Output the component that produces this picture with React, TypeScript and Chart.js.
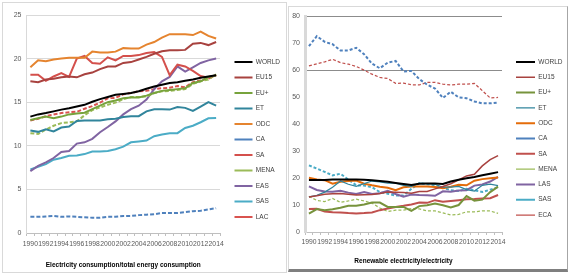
import React, { useEffect, useRef } from 'react';
import { Chart, registerables } from 'chart.js';
Chart.register(...registerables);

const YEARS = ['1990','1991','1992','1993','1994','1995','1996','1997','1998','1999','2000','2001','2002','2003','2004','2005','2006','2007','2008','2009','2010','2011','2012','2013','2014'];

// Left panel: Electricity consumption / total energy consumption (%)
const L_WORLD = [13.35, 13.6, 13.75, 13.95, 14.15, 14.3, 14.5, 14.7, 15.05, 15.35, 15.6, 15.85, 15.95, 16.05, 16.25, 16.55, 16.8, 17.0, 17.2, 17.3, 17.45, 17.6, 17.8, 17.95, 18.1];
const L_EU15 = [17.4, 17.3, 17.6, 17.7, 17.85, 17.95, 17.85, 18.2, 18.4, 18.8, 19.1, 19.1, 19.5, 19.6, 19.9, 20.2, 20.55, 20.85, 20.95, 20.95, 21.0, 21.7, 21.8, 21.55, 21.9];
const L_EUP = [12.95, 13.15, 13.35, 13.15, 13.35, 13.6, 13.7, 13.8, 14.2, 14.6, 15.0, 15.2, 15.45, 15.55, 15.55, 15.75, 16.05, 16.3, 16.4, 16.5, 16.6, 17.2, 17.4, 17.9, 18.1];
const L_ET = [11.75, 11.6, 11.9, 11.65, 12.1, 12.2, 12.85, 12.9, 12.9, 12.9, 13.05, 13.1, 13.3, 13.4, 13.4, 13.95, 14.2, 14.2, 14.15, 14.45, 14.35, 14.0, 14.5, 15.0, 14.6];
const L_ODC = [19.0, 19.8, 19.7, 19.9, 20.0, 20.1, 20.1, 20.1, 20.8, 20.7, 20.7, 20.8, 21.2, 21.15, 21.15, 21.6, 21.9, 22.4, 22.8, 22.8, 22.8, 22.7, 23.1, 22.6, 22.3];
const L_CA = [1.85, 1.85, 1.9, 1.95, 1.85, 1.9, 1.85, 1.8, 1.75, 1.75, 1.85, 1.85, 1.95, 1.95, 2.05, 2.1, 2.15, 2.3, 2.3, 2.3, 2.4, 2.5, 2.55, 2.7, 2.85];
const L_SA = [18.15, 18.15, 17.45, 17.95, 18.35, 17.9, 20.0, 20.3, 19.5, 19.4, 20.15, 19.8, 20.3, 20.3, 20.4, 20.65, 20.75, 20.2, 18.1, 19.3, 19.1, 18.6, 18.0, 17.8, 18.1];
const L_MENA = [11.45, 11.35, 11.85, 12.3, 12.6, 12.7, 12.8, 13.5, 14.1, 14.4, 14.7, 14.95, 15.35, 15.6, 15.6, 15.65, 16.05, 16.25, 16.3, 16.4, 16.5, 17.1, 17.4, 17.6, 18.2];
const L_EAS = [7.1, 7.7, 8.1, 8.6, 9.3, 9.4, 10.25, 10.4, 10.8, 11.55, 12.15, 12.8, 13.6, 14.2, 14.6, 15.3, 16.5, 17.4, 17.9, 19.1, 18.5, 19.0, 19.5, 19.8, 20.0];
const L_SAS = [7.3, 7.6, 7.9, 8.4, 8.6, 8.85, 8.9, 9.05, 9.35, 9.35, 9.4, 9.6, 9.9, 10.4, 10.5, 10.6, 11.1, 11.3, 11.45, 11.45, 12.05, 12.3, 12.7, 13.15, 13.2];
const L_LAC = [12.9, 13.1, 13.4, 13.6, 13.75, 13.85, 13.9, 14.25, 14.55, 14.95, 15.45, 15.5, 15.9, 16.05, 16.25, 16.3, 16.5, 16.6, 16.65, 16.85, 16.7, 17.3, 17.5, 17.7, 18.1];

// Right panel: Renewable electricity / electricity (%)
const R_WORLD = [19.3, 19.3, 19.3, 19.5, 19.5, 19.5, 19.5, 19.4, 19.2, 18.9, 18.6, 18.2, 17.8, 17.4, 17.9, 18.0, 18.0, 17.8, 18.7, 19.4, 19.9, 20.4, 21.0, 21.6, 22.2];
const R_EU15 = [13.0, 13.4, 14.0, 14.2, 14.3, 14.0, 13.7, 13.8, 13.9, 14.3, 14.8, 14.7, 14.6, 14.4, 15.0, 15.0, 16.0, 16.9, 17.9, 19.3, 20.8, 21.4, 24.5, 26.8, 28.3];
const R_EUP = [6.8, 8.5, 8.1, 8.4, 9.0, 9.7, 9.7, 10.2, 10.9, 10.9, 9.3, 9.3, 9.3, 7.8, 9.6, 9.9, 10.6, 9.9, 9.1, 10.0, 13.3, 11.6, 12.0, 14.8, 16.8];
const R_ET = [13.0, 13.6, 14.8, 16.6, 18.9, 17.7, 16.9, 17.9, 18.9, 18.6, 18.1, 18.1, 17.3, 16.9, 18.1, 17.9, 17.7, 16.6, 16.6, 16.9, 15.7, 15.2, 17.3, 17.7, 17.2];
const R_ODC = [20.1, 19.5, 19.2, 17.9, 18.6, 18.9, 19.1, 17.9, 17.3, 16.8, 16.4, 15.5, 16.6, 16.9, 16.9, 16.9, 16.7, 16.2, 16.8, 17.5, 17.3, 19.0, 19.6, 19.9, 20.2];
const R_CA = [68.9, 72.6, 70.5, 69.6, 67.3, 67.3, 68.3, 65.9, 62.4, 60.7, 62.8, 63.4, 59.5, 59.7, 56.7, 54.6, 53.2, 49.7, 52.0, 49.9, 49.6, 48.4, 47.7, 47.7, 48.0];
const R_SA = [8.5, 8.6, 7.6, 7.3, 7.2, 7.0, 6.9, 7.0, 7.2, 8.1, 8.7, 9.3, 9.7, 10.2, 10.9, 10.8, 11.8, 11.2, 11.5, 11.8, 12.1, 12.2, 12.4, 12.5, 13.7];
const R_MENA = [13.2, 11.7, 11.3, 12.4, 11.0, 11.5, 12.2, 11.5, 10.7, 8.9, 7.6, 8.1, 8.1, 8.7, 8.6, 7.8, 7.8, 7.1, 6.3, 6.5, 7.5, 7.5, 7.8, 7.8, 6.9];
const R_LAS = [16.9, 15.6, 15.0, 14.9, 15.3, 14.6, 14.1, 14.8, 14.1, 14.4, 15.3, 14.1, 13.1, 13.9, 13.7, 13.6, 13.4, 15.1, 14.9, 15.4, 15.5, 17.2, 17.6, 18.7, 20.4];
const R_SAS = [24.7, 23.5, 22.3, 21.0, 21.6, 19.4, 17.3, 17.2, 16.6, 14.8, 14.2, 13.5, 13.5, 16.0, 18.1, 17.7, 17.3, 16.4, 15.5, 15.2, 16.0, 15.5, 14.8, 15.7, 16.6];
const R_ECA = [61.6, 62.3, 63.1, 64.0, 62.8, 62.2, 61.4, 60.0, 58.5, 57.3, 56.9, 55.1, 55.2, 54.6, 54.5, 55.5, 55.5, 54.8, 54.5, 54.8, 54.8, 55.1, 52.4, 49.7, 49.9];

const LEFT_TICKS = [0, 5, 10, 15, 20, 25];
const RIGHT_TICKS = [0, 10, 20, 30, 40, 50, 60, 70, 80];

const FONT = "'Liberation Sans', Arial, sans-serif";

type S = { label: string; data: number[]; color: string; width: number; dash?: number[] };

const LEFT_SERIES: S[] = [
  { label: 'WORLD', data: L_WORLD, color: '#000000', width: 2 },
  { label: 'EU15', data: L_EU15, color: '#a8423f', width: 2 },
  { label: 'EU+', data: L_EUP, color: '#77a33c', width: 2 },
  { label: 'ET', data: L_ET, color: '#31859c', width: 2 },
  { label: 'ODC', data: L_ODC, color: '#e5842f', width: 2 },
  { label: 'CA', data: L_CA, color: '#4f81bd', width: 2, dash: [4, 2] },
  { label: 'SA', data: L_SA, color: '#d4504c', width: 2 },
  { label: 'MENA', data: L_MENA, color: '#9bbb59', width: 2, dash: [4, 2] },
  { label: 'EAS', data: L_EAS, color: '#8064a2', width: 2 },
  { label: 'SAS', data: L_SAS, color: '#4bacc6', width: 2 },
  { label: 'LAC', data: L_LAC, color: '#d9534f', width: 2, dash: [4, 2] },
];

const RIGHT_SERIES: S[] = [
  { label: 'WORLD', data: R_WORLD, color: '#000000', width: 2 },
  { label: 'EU15', data: R_EU15, color: '#a8423f', width: 1.5 },
  { label: 'EU+', data: R_EUP, color: '#77933c', width: 2 },
  { label: 'ET', data: R_ET, color: '#31859c', width: 1.25 },
  { label: 'ODC', data: R_ODC, color: '#e46c0a', width: 2 },
  { label: 'CA', data: R_CA, color: '#4f81bd', width: 2, dash: [3, 2] },
  { label: 'SA', data: R_SA, color: '#c0504d', width: 2 },
  { label: 'MENA', data: R_MENA, color: '#9bbb59', width: 1.25, dash: [3, 2] },
  { label: 'LAS', data: R_LAS, color: '#8064a2', width: 2 },
  { label: 'SAS', data: R_SAS, color: '#4bacc6', width: 2, dash: [3, 2] },
  { label: 'ECA', data: R_ECA, color: '#c0504d', width: 1.25, dash: [3, 2] },
];

type PanelCfg = {
  series: S[];
  ticks: number[];
  title: string;
  w: number; h: number;
  yAxisW: number; xAxisH: number;
  padR: number; padTop: number; padBottom: number;
  legendW: number; gapW: number; legendPad: number; legendTitleH: number; lineW: number;
  gridColor: (v: number) => string;
  yBorder: { color: string; width: number };
  xTickPad: number;
};

function buildConfig(p: PanelCfg): any {
  const max = p.ticks[p.ticks.length - 1];
  const step = p.ticks[1] - p.ticks[0];
  return {
    type: 'line',
    data: {
      labels: YEARS,
      datasets: p.series.map((s) => ({
        label: s.label,
        data: s.data,
        borderColor: s.color,
        backgroundColor: s.color,
        borderWidth: s.width,
        borderDash: s.dash || [],
        pointRadius: 0,
        tension: 0,
        fill: false,
      })),
    },
    options: {
      animation: false,
      responsive: false,
      devicePixelRatio: 1,
      layout: { padding: { left: 0, right: p.padR, top: p.padTop, bottom: p.padBottom } },
      plugins: {
        tooltip: { enabled: false },
        title: { display: false },
        legend: {
          position: 'right',
          align: 'start',
          maxWidth: p.legendW,
          title: { display: true, text: ' ', font: { size: 1, lineHeight: 1 }, padding: { top: p.legendTitleH - 1, bottom: 0 } },
          labels: {
            usePointStyle: true,
            pointStyle: 'line',
            pointStyleWidth: p.lineW,
            padding: p.legendPad,
            color: '#404040',
            font: { size: 6.5, family: FONT },
          },
        },
      },
      scales: {
        x: {
          type: 'category',
          offset: true,
          grid: { display: true, drawOnChartArea: false, drawTicks: true, tickLength: 3, offset: true, color: '#bfbfbf' },
          border: { display: true, color: '#bfbfbf', width: 1 },
          ticks: {
            autoSkip: false,
            maxRotation: 0,
            minRotation: 0,
            padding: p.xTickPad,
            color: '#595959',
            font: { size: 6.8, family: FONT },
            callback: (_v: any, i: number) => (i % 2 === 0 ? YEARS[i] : ''),
          },
          title: {
            display: true,
            text: p.title,
            color: '#000000',
            font: { size: 6.5, weight: 'bold', family: FONT },
            padding: { top: 0, bottom: 1.1 },
          },
          afterFit: (s: any) => { s.height = p.xAxisH; },
        },
        y: {
          type: 'linear',
          position: 'left',
          min: 0,
          max,
          grid: { drawTicks: false, color: (c: any) => p.gridColor(c.tick.value), lineWidth: 1 },
          border: { display: true, color: p.yBorder.color, width: p.yBorder.width },
          ticks: { stepSize: step, padding: 5, color: '#595959', font: { size: 7, family: FONT } },
          afterFit: (s: any) => { s.width = p.yAxisW; },
        },
        gap: {
          type: 'linear',
          position: 'right',
          display: true,
          grid: { display: false, drawTicks: false },
          border: { display: false },
          ticks: { display: false },
          afterFit: (s: any) => { s.width = p.gapW; },
        },
      },
    },
  };
}

function Panel({ cfg }: { cfg: PanelCfg }) {
  const ref = useRef<HTMLCanvasElement | null>(null);
  useEffect(() => {
    if (!ref.current) return;
    const chart = new Chart(ref.current, buildConfig(cfg));
    return () => chart.destroy();
  }, []);
  return <canvas ref={ref} width={cfg.w} height={cfg.h} style={{ position: 'absolute', left: 0, top: 0, width: cfg.w, height: cfg.h }} />;
}

const leftCfg: PanelCfg = {
  series: LEFT_SERIES,
  ticks: LEFT_TICKS,
  title: 'Electricity consumption/total energy consumption',
  w: 283, h: 269,
  yAxisW: 23.5, xAxisH: 37,
  padR: 0.5, padTop: 12, padBottom: 2,
  legendW: 60, gapW: 5.5, legendPad: 9, legendTitleH: 34.75, lineW: 18,
  gridColor: (v) => (v === 0 ? 'rgba(0,0,0,0)' : '#d9d9d9'),
  yBorder: { color: '#d9d9d9', width: 1 },
  xTickPad: 4,
};

const rightCfg: PanelCfg = {
  series: RIGHT_SERIES,
  ticks: RIGHT_TICKS,
  title: 'Renewable electricity/electricity',
  w: 277, h: 261,
  yAxisW: 16, xAxisH: 34,
  padR: 0.8, padTop: 8, padBottom: 2,
  legendW: 58, gapW: 5.2, legendPad: 8.8, legendTitleH: 34.95, lineW: 19,
  gridColor: (v) => (v === 80 || v === 60 ? '#8c8c8c' : 'rgba(0,0,0,0)'),
  yBorder: { color: '#d9d9d9', width: 3 },
  xTickPad: 3.5,
};

export default function App() {
  return (
    <div style={{ position: 'absolute', left: 0, top: 0, width: 574, height: 278, background: '#ffffff', overflow: 'hidden' }}>
      <div style={{ position: 'absolute', left: 2, top: 2, width: 285, height: 271, boxSizing: 'border-box', border: '1px solid #d9d9d9' }}>
        <Panel cfg={leftCfg} />
      </div>
      <div style={{ position: 'absolute', left: 288, top: 6, width: 280, height: 266, boxSizing: 'border-box', borderLeft: '1px solid #d9d9d9', borderTop: '1px solid #d9d9d9', borderRight: '1px solid #a6a6a6', borderBottom: '3px solid #7f7f7f' }}>
        <Panel cfg={rightCfg} />
      </div>
    </div>
  );
}
